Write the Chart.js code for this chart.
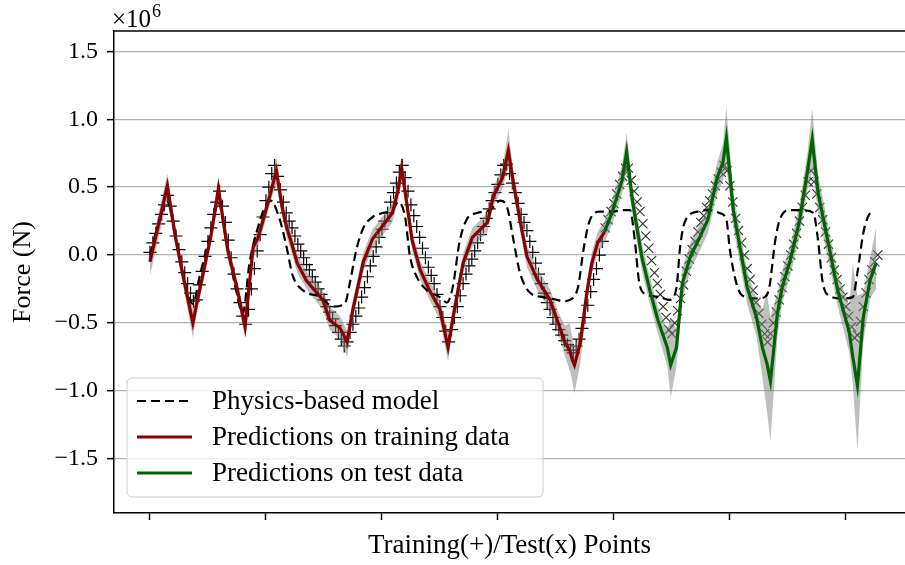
<!DOCTYPE html>
<html>
<head>
<meta charset="utf-8">
<script src="https://cdn.jsdelivr.net/npm/chart.js@4.4.1/dist/chart.umd.min.js"></script>
<style>
html, body { margin: 0; padding: 0; background: #fff; overflow: hidden; }
canvas { display: block; }
</style>
</head>
<body>
<canvas id="chart" width="905" height="565"></canvas>
<script>
var SERIF = '"Liberation Serif", "Times New Roman", serif';

var xTicks = [0, 100, 200, 300, 400, 500, 600];
var yTicks = [-1.5, -1.0, -0.5, 0.0, 0.5, 1.0, 1.5];

// measured force, units of 1e6 N, one value every 2.5 points
var truthStep = 2.5;
var trainTruth = [
    0.02, 0.09, 0.16, 0.23, 0.30, 0.37, 0.44, 0.36, 0.25, 0.14,
    0.04, -0.05, -0.13, -0.21, -0.28, -0.34, -0.33, -0.22, -0.12, -0.01,
    0.10, 0.20, 0.30, 0.39, 0.47, 0.36, 0.24, 0.11, -0.02, -0.14,
    -0.25, -0.35, -0.45, -0.51, -0.40, -0.25, -0.10, 0.03, 0.15, 0.28,
    0.40, 0.50, 0.60, 0.66, 0.58, 0.48, 0.39, 0.31, 0.25, 0.20,
    0.14, 0.08, 0.03, -0.02, -0.07, -0.11, -0.16, -0.20, -0.25, -0.29,
    -0.33, -0.38, -0.42, -0.47, -0.52, -0.57, -0.62, -0.67, -0.64, -0.57,
    -0.51, -0.45, -0.39, -0.31, -0.24, -0.16, -0.08, -0.01, 0.06, 0.13,
    0.19, 0.25, 0.31, 0.39, 0.46, 0.53, 0.61, 0.66, 0.57, 0.47,
    0.37, 0.29, 0.21, 0.13, 0.05, -0.02, -0.09, -0.15, -0.21, -0.29,
    -0.38, -0.46, -0.56, -0.64, -0.55, -0.46, -0.38, -0.30, -0.21, -0.14,
    -0.08, -0.03, 0.03, 0.09, 0.15, 0.21, 0.27, 0.34, 0.40, 0.46,
    0.52, 0.59, 0.66, 0.67, 0.60, 0.53, 0.46, 0.38, 0.30, 0.24,
    0.18, 0.10, 0.02, -0.06, -0.14, -0.21, -0.28, -0.35, -0.40, -0.46,
    -0.51, -0.55, -0.59, -0.63, -0.66, -0.70, -0.72, -0.67, -0.62, -0.54,
    -0.46, -0.37, -0.27, -0.18, -0.10, 0.00, 0.10
];
var testStart = 392.5;
var testTruth = [
    0.20, 0.26, 0.32, 0.38, 0.45, 0.52, 0.58, 0.64, 0.64, 0.55,
    0.47, 0.39, 0.32, 0.23, 0.14, 0.05, -0.04, -0.13, -0.21, -0.29,
    -0.38, -0.46, -0.55, -0.58, -0.50, -0.41, -0.32, -0.22, -0.12, -0.03,
    0.04, 0.10, 0.17, 0.24, 0.29, 0.35, 0.40, 0.45, 0.51, 0.56,
    0.61, 0.66, 0.62, 0.51, 0.39, 0.27, 0.18, 0.09, 0.00, -0.10,
    -0.18, -0.26, -0.35, -0.43, -0.51, -0.58, -0.64, -0.58, -0.50, -0.42,
    -0.33, -0.24, -0.16, -0.08, 0.00, 0.08, 0.16, 0.25, 0.35, 0.44,
    0.54, 0.62, 0.54, 0.45, 0.35, 0.26, 0.17, 0.08, -0.02, -0.11,
    -0.18, -0.25, -0.31, -0.38, -0.45, -0.53, -0.61, -0.59, -0.49, -0.38,
    -0.28, -0.18, -0.11, -0.05, 0.00
];

// physics-based model
var physX = [
    0, 7, 15, 22, 28, 37, 43, 52, 59, 67,
    74, 80, 86, 93, 98, 104, 112, 118, 123, 132,
    147, 158, 168, 172, 178, 184, 192, 201, 209, 214,
    220, 224, 230, 239, 250, 256, 261, 267, 273, 282,
    293, 302, 308, 313, 319, 328, 339, 351, 356, 362,
    369, 374, 379, 388, 399, 408, 414, 418, 422, 428,
    440, 448, 454, 457, 461, 472, 483, 491, 497, 500,
    506, 511, 523, 530, 534, 539, 543, 552, 563, 572,
    576, 580, 586, 597, 606, 610, 615, 619, 623
];
var physY = [
    0.00, 0.22, 0.39, 0.15, -0.12, -0.36, -0.15, 0.15, 0.38, 0.05,
    -0.25, -0.43, -0.05, 0.20, 0.33, 0.40, 0.26, 0.05, -0.15, -0.26,
    -0.31, -0.38, -0.36, -0.22, 0.04, 0.20, 0.28, 0.31, 0.33, 0.39,
    0.28, 0.00, -0.16, -0.26, -0.31, -0.35, -0.24, 0.10, 0.26, 0.31,
    0.33, 0.40, 0.35, 0.13, -0.13, -0.28, -0.31, -0.33, -0.34, -0.33,
    -0.24, 0.05, 0.25, 0.32, 0.32, 0.33, 0.33, 0.11, -0.21, -0.29,
    -0.31, -0.33, -0.24, 0.05, 0.24, 0.32, 0.33, 0.31, 0.26, 0.04,
    -0.22, -0.30, -0.32, -0.31, -0.24, 0.10, 0.26, 0.33, 0.33, 0.31,
    0.11, -0.20, -0.30, -0.32, -0.31, -0.13, 0.16, 0.28, 0.33
];

// predictions on training data, with lower / upper band
var trainPredX = [
    0, 15, 22, 28, 37, 41, 46, 53, 59, 67,
    75, 82, 89, 93, 99, 105, 109, 114, 118, 122,
    127, 135, 144, 149, 155, 164, 170, 175, 184, 192,
    201, 209, 214, 217, 222, 226, 233, 241, 250, 257,
    263, 270, 278, 291, 296, 304, 309, 313, 319, 325,
    334, 345, 352, 358, 362, 364, 366, 371, 377, 381,
    386, 392
];
var trainPred = [
    -0.05, 0.51, 0.13, -0.13, -0.50, -0.33, -0.13, 0.16, 0.49, 0.04,
    -0.24, -0.53, 0.06, 0.12, 0.30, 0.49, 0.62, 0.35, 0.20, 0.09,
    -0.06, -0.19, -0.28, -0.33, -0.48, -0.54, -0.64, -0.40, -0.05, 0.12,
    0.22, 0.31, 0.48, 0.64, 0.35, 0.11, -0.11, -0.26, -0.40, -0.68,
    -0.38, -0.06, 0.13, 0.24, 0.43, 0.57, 0.77, 0.55, 0.26, -0.01,
    -0.18, -0.33, -0.50, -0.65, -0.70, -0.77, -0.81, -0.65, -0.26, -0.06,
    0.09, 0.17
];
var trainLo = [
    -0.15, 0.40, 0.07, -0.20, -0.61, -0.40, -0.20, 0.10, 0.40, -0.03,
    -0.30, -0.61, -0.02, 0.05, 0.23, 0.42, 0.52, 0.28, 0.13, 0.02,
    -0.13, -0.25, -0.35, -0.40, -0.55, -0.62, -0.75, -0.47, -0.12, 0.05,
    0.15, 0.24, 0.40, 0.55, 0.28, 0.04, -0.18, -0.33, -0.48, -0.78,
    -0.45, -0.13, 0.06, 0.17, 0.36, 0.49, 0.65, 0.47, 0.18, -0.09,
    -0.26, -0.41, -0.58, -0.75, -0.85, -0.92, -1.02, -0.80, -0.35, -0.14,
    0.01, 0.09
];
var trainHi = [
    0.02, 0.60, 0.20, -0.08, -0.40, -0.27, -0.07, 0.22, 0.56, 0.10,
    -0.18, -0.45, 0.12, 0.19, 0.36, 0.56, 0.72, 0.42, 0.27, 0.16,
    0.01, -0.12, -0.21, -0.26, -0.38, -0.45, -0.56, -0.33, 0.02, 0.19,
    0.29, 0.38, 0.55, 0.72, 0.42, 0.18, -0.04, -0.19, -0.33, -0.58,
    -0.31, 0.01, 0.20, 0.31, 0.50, 0.65, 0.92, 0.63, 0.34, 0.07,
    -0.10, -0.25, -0.42, -0.52, -0.50, -0.60, -0.68, -0.55, -0.18, 0.02,
    0.17, 0.25
];

// predictions on test data, with lower / upper band
var testPredX = [
    392, 399, 407, 411, 416, 424, 431, 438, 446, 449,
    454, 459, 466, 474, 481, 489, 494, 497, 503, 515,
    523, 528, 532, 535, 541, 545, 552, 560, 567, 571,
    576, 586, 593, 603, 606, 610, 615, 621, 626
];
var testPred = [
    0.17, 0.33, 0.55, 0.76, 0.40, -0.01, -0.26, -0.48, -0.68, -0.81,
    -0.68, -0.21, -0.01, 0.13, 0.26, 0.57, 0.68, 0.86, 0.33, -0.24,
    -0.46, -0.68, -0.80, -0.93, -0.43, -0.24, -0.04, 0.25, 0.62, 0.85,
    0.46, 0.04, -0.26, -0.57, -0.75, -0.96, -0.46, -0.18, -0.06
];
var testLo = [
    0.09, 0.24, 0.45, 0.62, 0.30, -0.11, -0.36, -0.58, -0.82, -1.05,
    -0.82, -0.32, -0.11, 0.03, 0.16, 0.45, 0.55, 0.65, 0.20, -0.36,
    -0.60, -0.90, -1.15, -1.37, -0.60, -0.36, -0.15, 0.13, 0.48, 0.62,
    0.32, -0.08, -0.38, -0.72, -0.95, -1.44, -0.65, -0.32, -0.25
];
var testHi = [
    0.25, 0.42, 0.66, 0.90, 0.50, 0.09, -0.16, -0.38, -0.55, -0.46,
    -0.55, -0.10, 0.09, 0.23, 0.36, 0.68, 0.82, 1.09, 0.45, -0.12,
    -0.32, -0.40, -0.28, -0.45, -0.28, -0.12, 0.07, 0.37, 0.76, 1.08,
    0.60, 0.16, -0.14, -0.38, -0.06, -0.30, -0.28, -0.02, 0.20
];

function pts(xs, ys) {
    var out = [];
    for (var i = 0; i < ys.length; i++) out.push({x: xs[i], y: ys[i]});
    return out;
}

var trainTruthPts = trainTruth.map(function (v, i) { return {x: i * truthStep, y: v}; });
var testTruthPts = testTruth.map(function (v, i) { return {x: testStart + i * truthStep, y: v}; });
var bandX = trainPredX.concat(testPredX.slice(1));
var bandLo = trainLo.concat(testLo.slice(1));
var bandHi = trainHi.concat(testHi.slice(1));

function fmt(v) {
    var s = Math.abs(v).toFixed(1);
    return v < 0 ? '\u2212' + s : s;
}

var frame = {
    id: 'frame',
    afterDraw: function (chart) {
        var c = chart.ctx, a = chart.chartArea;
        c.save();
        c.strokeStyle = '#000';
        c.lineWidth = 1.5;
        c.beginPath();
        c.moveTo(a.left, a.top);
        c.lineTo(a.right, a.top);
        c.stroke();
        // offset text
        c.fillStyle = '#000';
        c.textBaseline = 'alphabetic';
        c.font = '25px ' + SERIF;
        c.fillText('\u00d710', 112, 27);
        var w = c.measureText('\u00d710').width;
        c.font = '18px ' + SERIF;
        c.fillText('6', 112 + w + 1, 17);
        c.restore();
    }
};

var legendBox = {
    id: 'legendBox',
    afterDatasetsDraw: function (chart) {
        var c = chart.ctx;
        var items = [chart.data.datasets[2], chart.data.datasets[1], chart.data.datasets[0]];
        var x0 = 127, y0 = 378, w = 416, h = 119, r = 5;
        c.save();
        c.beginPath();
        c.moveTo(x0 + r, y0);
        c.arcTo(x0 + w, y0, x0 + w, y0 + h, r);
        c.arcTo(x0 + w, y0 + h, x0, y0 + h, r);
        c.arcTo(x0, y0 + h, x0, y0, r);
        c.arcTo(x0, y0, x0 + w, y0, r);
        c.closePath();
        c.fillStyle = 'rgba(255,255,255,0.8)';
        c.fill();
        c.strokeStyle = '#cccccc';
        c.lineWidth = 1;
        c.stroke();
        c.font = '27px ' + SERIF;
        c.textBaseline = 'middle';
        c.fillStyle = '#000';
        for (var i = 0; i < items.length; i++) {
            var d = items[i];
            var y = 401 + i * 36;
            c.strokeStyle = d.borderColor;
            c.lineWidth = d.borderWidth;
            c.setLineDash(d.borderDash || []);
            c.beginPath();
            c.moveTo(137, y);
            c.lineTo(192, y);
            c.stroke();
            c.setLineDash([]);
            c.fillText(d.label, 212, y + 1);
        }
        c.restore();
    }
};

var ctx = document.getElementById('chart').getContext('2d');
var chart = new Chart(ctx, {
    type: 'line',
    data: {
        datasets: [{
            label: 'Predictions on test data',
            data: pts(testPredX, testPred),
            borderColor: '#006400',
            borderWidth: 3.2,
            pointRadius: 0,
            tension: 0,
            order: 1
        }, {
            label: 'Predictions on training data',
            data: pts(trainPredX, trainPred),
            borderColor: '#8b0000',
            borderWidth: 3.2,
            pointRadius: 0,
            tension: 0,
            order: 2
        }, {
            label: 'Physics-based model',
            data: pts(physX, physY),
            borderColor: '#000',
            borderWidth: 2.2,
            borderDash: [9, 5],
            pointRadius: 0,
            cubicInterpolationMode: 'monotone',
            order: 3
        }, {
            label: 'band lo',
            data: pts(bandX, bandLo),
            borderWidth: 0,
            borderColor: 'rgba(0,0,0,0)',
            pointRadius: 0,
            fill: false,
            order: 5
        }, {
            label: 'band hi',
            data: pts(bandX, bandHi),
            borderWidth: 0,
            borderColor: 'rgba(0,0,0,0)',
            backgroundColor: 'rgba(128,128,128,0.5)',
            pointRadius: 0,
            fill: '-1',
            order: 4
        }, {
            label: 'Test(x)',
            data: testTruthPts,
            showLine: false,
            pointStyle: 'crossRot',
            pointRadius: 6.5,
            pointBorderColor: '#2e2e2e',
            pointBorderWidth: 1.1,
            order: 6
        }, {
            label: 'Training(+)',
            data: trainTruthPts,
            showLine: false,
            pointStyle: 'cross',
            pointRadius: 6.5,
            pointBorderColor: '#000',
            pointBorderWidth: 1.2,
            order: 7
        }]
    },
    options: {
        responsive: false,
        animation: false,
        events: [],
        layout: {autoPadding: false, padding: {top: 31, right: 0, left: 0, bottom: 0}},
        plugins: {legend: {display: false}, tooltip: {enabled: false}},
        scales: {
            x: {
                type: 'linear',
                min: -31,
                max: 651,
                afterBuildTicks: function (s) { s.ticks = xTicks.map(function (v) { return {value: v}; }); },
                afterFit: function (s) { s.height = 52; s.paddingLeft = 0; s.paddingRight = 0; },
                ticks: {callback: function () { return ''; }},
                grid: {drawOnChartArea: false, drawTicks: true, tickLength: 7, tickColor: '#000', tickWidth: 1.5},
                border: {color: '#000', width: 1.5},
                title: {
                    display: true,
                    text: 'Training(+)/Test(x) Points',
                    color: '#000',
                    font: {family: SERIF, size: 27},
                    padding: {top: 0, bottom: 3}
                }
            },
            y: {
                min: -1.9,
                max: 1.65,
                afterBuildTicks: function (s) { s.ticks = yTicks.map(function (v) { return {value: v}; }); },
                afterFit: function (s) { s.width = 114; },
                ticks: {
                    callback: fmt,
                    color: '#000',
                    padding: 9,
                    font: {family: SERIF, size: 24}
                },
                grid: {color: '#b0b0b0', lineWidth: 1.3, tickLength: 7, tickColor: '#000', tickWidth: 1.5},
                border: {color: '#000', width: 1.5},
                title: {
                    display: true,
                    text: 'Force (N)',
                    color: '#000',
                    font: {family: SERIF, size: 26},
                    padding: {top: 8, bottom: 0}
                }
            }
        }
    },
    plugins: [frame, legendBox]
});
</script>
</body>
</html>
